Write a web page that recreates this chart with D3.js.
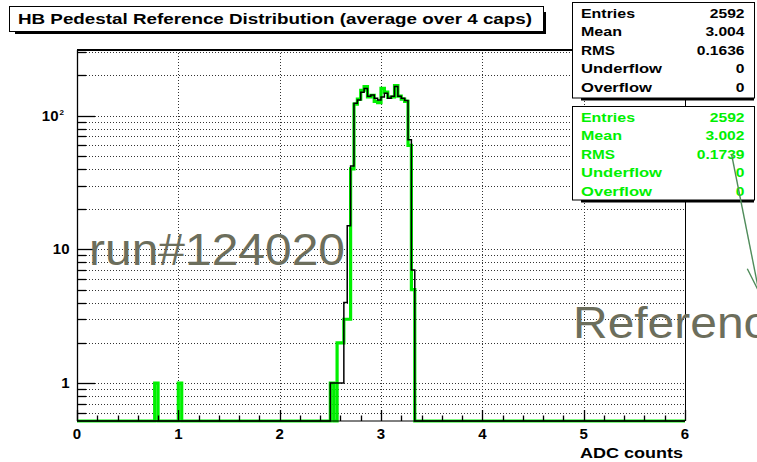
<!DOCTYPE html>
<html>
<head>
<meta charset="utf-8">
<script src="https://cdn.jsdelivr.net/npm/d3@7"></script>
<style>
  body { margin: 0; background: #fff; overflow: hidden; }
  svg { display: block; }
  text { font-family: "Liberation Sans", Arial, Helvetica, sans-serif; }
</style>
</head>
<body>
<svg id="chart" width="757" height="462"></svg>
<script>
// ---- data ----
const chartTitle = "HB Pedestal Reference Distribution (average over 4 caps)";
const xAxisTitle = "ADC counts";
const xRange = [0, 6];
const xMajorTicks = [0, 1, 2, 3, 4, 5, 6];
const yMajorTicks = [1, 10, 100];
const yMajorLabels = ["1", "10", "10|2"];
const binWidth = 6 / 180;

// current run (black outline)
const runFirstEdge = 2.5;
const runCounts = [1, 1, 1, 1, 4, 15, 42, 124, 131, 150, 160, 140, 143, 135, 131,
                   138, 147, 135, 140, 165, 140, 135, 130, 66, 7];

// reference (thick green outline)
const refFirstEdge = 2.5;
const refCounts = [1, 0, 2, 2, 3, 3, 40, 122, 133, 155, 165, 138, 142, 128, 125,
                   160, 150, 137, 138, 168, 140, 133, 128, 60, 5];
const refOutlierEdges = [0.7667, 1.0];
const refOutlierCounts = [1, 1];

const statLabels = ["Entries", "Mean", "RMS", "Underflow", "Overflow"];
const runStats = ["2592", "3.004", "0.1636", "0", "0"];
const refStats = ["2592", "3.002", "0.1739", "0", "0"];
const runName = "run#124020";
const refName = "Reference";

// ---- drawing ----
const svg = d3.select("#chart");
const frame = { l: 77, r: 685, t: 50, b: 421 };
const x = d3.scaleLinear().domain(xRange).range([frame.l, frame.r]);
const y = d3.scaleLog().domain([0.52, 310]).range([frame.b, frame.t]);

const GREEN = "#00f000";
const NOTE = "#6c6e5c";

// stretch a text element horizontally to a given width
function fit(sel, width) {
  sel.attr("textLength", width).attr("lengthAdjust", "spacingAndGlyphs");
  return sel;
}

// grid
const yTicks = y.ticks();
const isMajor = v => Math.abs(Math.log10(v) - Math.round(Math.log10(v))) < 1e-9;
const grid = svg.append("g").attr("stroke", "#333").attr("stroke-width", 1)
  .attr("stroke-dasharray", "1,2");
grid.selectAll("line.h").data(yTicks).join("line").attr("class", "h")
  .attr("x1", frame.l).attr("x2", frame.r)
  .attr("y1", d => Math.round(y(d)) + 0.5).attr("y2", d => Math.round(y(d)) + 0.5);
grid.selectAll("line.v").data(xMajorTicks.slice(1, -1)).join("line").attr("class", "v")
  .attr("x1", d => Math.round(x(d)) + 0.5).attr("x2", d => Math.round(x(d)) + 0.5)
  .attr("y1", frame.t).attr("y2", frame.b);

// histograms
const nBins = Math.round((xRange[1] - xRange[0]) / binWidth);
function fillBins(firstEdge, counts) {
  const a = new Array(nBins).fill(0);
  const i0 = Math.round(firstEdge / binWidth);
  counts.forEach((c, i) => { a[i0 + i] += c; });
  return a;
}
const runHist = fillBins(runFirstEdge, runCounts);
const refHist = fillBins(refFirstEdge, refCounts);
refOutlierEdges.forEach((e, i) => { refHist[Math.round(e / binWidth)] += refOutlierCounts[i]; });

const yv = c => (c > 0 ? y(c) : frame.b);
function stepPath(h) {
  let p = `M${x(0)},${yv(h[0])}`;
  h.forEach((c, i) => {
    if (i > 0) p += `V${yv(c)}`;
    p += `H${x((i + 1) * binWidth)}`;
  });
  return p;
}
svg.append("path").attr("d", stepPath(refHist)).attr("fill", "none")
  .attr("stroke", GREEN).attr("stroke-width", 3.2).attr("stroke-linejoin", "miter");
svg.append("path").attr("d", stepPath(runHist)).attr("fill", "none")
  .attr("stroke", "#000").attr("stroke-width", 1.5);

// frame and axes
const ax = svg.append("g").attr("stroke", "#000");
ax.append("line").attr("x1", frame.l).attr("x2", frame.r).attr("y1", frame.t).attr("y2", frame.t).attr("stroke-width", 2);
ax.append("line").attr("x1", frame.r + 0.5).attr("x2", frame.r + 0.5).attr("y1", frame.t).attr("y2", frame.b).attr("stroke-width", 1);
ax.append("line").attr("x1", frame.l + 0.5).attr("x2", frame.l + 0.5).attr("y1", frame.t).attr("y2", frame.b).attr("stroke-width", 1.3);
ax.append("line").attr("x1", frame.l).attr("x2", frame.r).attr("y1", frame.b).attr("y2", frame.b).attr("stroke-width", 1);

// y ticks (inside the frame)
ax.selectAll("line.yt").data(yTicks).join("line").attr("class", "yt")
  .attr("x1", frame.l).attr("x2", d => frame.l + (isMajor(d) ? 18 : 9))
  .attr("y1", d => Math.round(y(d)) + 0.5).attr("y2", d => Math.round(y(d)) + 0.5)
  .attr("stroke-width", 1.3);
// x ticks
const xMinor = d3.range(0, 30 + 1).map(i => i * 0.2).filter(v => v <= xRange[1] + 1e-9);
ax.selectAll("line.xt").data(xMinor).join("line").attr("class", "xt")
  .attr("x1", d => Math.round(x(d)) + 0.5).attr("x2", d => Math.round(x(d)) + 0.5)
  .attr("y1", frame.b)
  .attr("y2", d => frame.b - (Math.abs(d - Math.round(d)) < 1e-9 ? 11 : 5.5))
  .attr("stroke-width", 1.3);

// tick labels
svg.selectAll("text.xl").data(xMajorTicks).join("text").attr("class", "xl")
  .attr("x", d => x(d)).attr("y", 439).attr("text-anchor", "middle")
  .attr("font-size", 15).attr("font-weight", "bold").text(d => d);

yMajorTicks.forEach((v, i) => {
  const [base, sup] = yMajorLabels[i].split("|");
  const yy = y(v) + 5;
  if (sup) {
    svg.append("text").attr("x", 58.5).attr("y", yy).attr("text-anchor", "end")
      .attr("font-size", 15).attr("font-weight", "bold").text(base);
    svg.append("text").attr("x", 59.5).attr("y", yy - 6).attr("font-size", 8)
      .attr("font-weight", "bold").text(sup);
  } else {
    svg.append("text").attr("x", 69.5).attr("y", yy).attr("text-anchor", "end")
      .attr("font-size", 15).attr("font-weight", "bold").text(base);
  }
});

fit(svg.append("text").attr("x", 580).attr("y", 458).attr("font-size", 15)
  .attr("font-weight", "bold").text(xAxisTitle), 103);

// annotations
const runText = svg.append("text").attr("x", 89).attr("y", 265).attr("font-size", 44)
  .attr("fill", NOTE).text(runName);
const stretch = 256 / runText.node().getComputedTextLength();
fit(runText, 256);
const refText = svg.append("text").attr("x", 573).attr("y", 338).attr("font-size", 44)
  .attr("fill", NOTE).text(refName);
fit(refText, refText.node().getComputedTextLength() * stretch);

// boxes with drop shadows
function shadowBox(x0, y0, x1, y1, off, rightShadow) {
  const g = svg.append("g");
  g.append("rect").attr("x", x0 + off).attr("y", y1).attr("width", x1 - x0 - off + (rightShadow ? 3 : 0)).attr("height", 3).attr("fill", "#000");
  if (rightShadow) {
    g.append("rect").attr("x", x1).attr("y", y0 + off).attr("width", 3).attr("height", y1 - y0 - off + 3).attr("fill", "#000");
  }
  g.append("rect").attr("x", x0 + 0.5).attr("y", y0 + 0.5).attr("width", x1 - x0).attr("height", y1 - y0)
    .attr("fill", "#fff").attr("stroke", "#000").attr("stroke-width", 1);
  return g;
}

shadowBox(9, 6, 543, 31, 6, true);
fit(svg.append("text").attr("x", 18).attr("y", 23.5).attr("font-size", 14)
  .attr("font-weight", "bold").text(chartTitle), 514);

function statsBox(y0, y1, color, values) {
  shadowBox(572, y0, 754, y1, 9, false);
  const w = { Entries: 54, Mean: 41, RMS: 34, Underflow: 81, Overflow: 71 };
  statLabels.forEach((lab, i) => {
    const yy = y0 + 15.5 + i * 18.6;
    fit(svg.append("text").attr("x", 581).attr("y", yy).attr("font-size", 13)
      .attr("font-weight", "bold").attr("fill", color).text(lab), w[lab]);
    const t = svg.append("text").attr("x", 744.5).attr("y", yy).attr("font-size", 13)
      .attr("font-weight", "bold").attr("fill", color).attr("text-anchor", "end").text(values[i]);
    fit(t, t.node().getComputedTextLength() * 1.2);
  });
}
statsBox(2, 97.5, "#000", runStats);
statsBox(106, 199.5, GREEN, refStats);

// pointer from the reference stats to the label
const p0 = [731.5, 154], tip = [759, 292];
const ang = Math.atan2(tip[1] - p0[1], tip[0] - p0[0]);
const wing = s => [tip[0] - 26 * Math.cos(ang + s * 0.27), tip[1] - 26 * Math.sin(ang + s * 0.27)];
const arrow = svg.append("g").attr("stroke", "#4f8c5a").attr("stroke-width", 1.4).attr("fill", "none");
arrow.append("line").attr("x1", p0[0]).attr("y1", p0[1]).attr("x2", tip[0]).attr("y2", tip[1]);
arrow.append("polyline").attr("points", [wing(1), tip, wing(-1)].map(p => p.join(",")).join(" "));
</script>
</body>
</html>
